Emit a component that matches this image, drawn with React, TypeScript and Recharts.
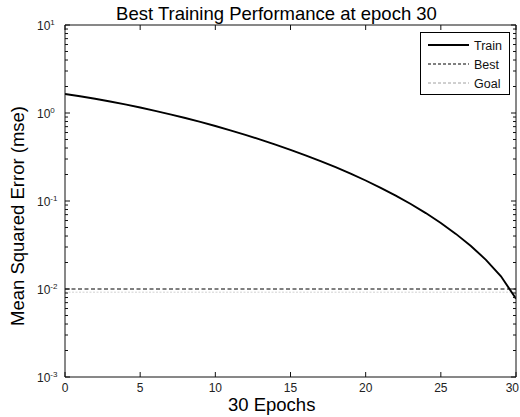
import React from 'react';
import { LineChart, Line, XAxis, YAxis, ReferenceLine, Legend } from 'recharts';

const epochs = [0, 1, 2, 3, 4, 5, 6, 7, 8, 9, 10, 11, 12, 13, 14, 15, 16, 17, 18, 19, 20, 21, 22, 23, 24, 25, 26, 27, 28, 29, 30];
const trainMse = [1.644, 1.548, 1.45, 1.351, 1.252, 1.155, 1.059, 0.9665, 0.877, 0.792, 0.712, 0.636, 0.565, 0.499, 0.438, 0.382, 0.3306, 0.2841, 0.2422, 0.2046, 0.171, 0.1413, 0.1152, 0.0924, 0.0729, 0.0562, 0.0423, 0.0308, 0.02147, 0.01394, 0.00774];
const bestLevel = 0.01;
const goalLevel = 0.0092;
const xTicks = [0, 5, 10, 15, 20, 25, 30];
const yDecades = [0.001, 0.01, 0.1, 1, 10];
const legendNames = ['Train', 'Best', 'Goal'];
const titleText = 'Best Training Performance at epoch 30';
const xLabelText = '30 Epochs';
const yLabelText = 'Mean Squared Error (mse)';

const FONT = '"Liberation Sans", Arial, sans-serif';
const TM = 6;
const CHART_W = 520;

const data = epochs.map((e, i) => ({ epoch: e, train: trainMse[i] }));

const yTicks: number[] = [];
yDecades.forEach((d, i) => {
  if (i < yDecades.length - 1) {
    for (let k = 1; k <= 9; k++) yTicks.push(parseFloat((d * k).toPrecision(6)));
  } else {
    yTicks.push(d);
  }
});

const isMajor = (v: number) => {
  const l = Math.log10(v);
  return Math.abs(l - Math.round(l)) < 1e-6;
};

const LeftYTick = (props: any) => {
  const { x, y, payload } = props;
  const v = payload.value;
  const ax = x + TM;
  const major = isMajor(v);
  const exp = Math.round(Math.log10(v));
  return (
    <g>
      <line x1={ax} x2={ax + (major ? 5 : 3)} y1={y} y2={y} stroke="#111" strokeWidth={1} />
      {major && (
        <text x={ax - 28} y={y + 4.5} fontSize={12} fontFamily={FONT} fill="#222">
          10
          <tspan dy={-5} fontSize={8}>{exp}</tspan>
        </text>
      )}
    </g>
  );
};

const RightYTick = (props: any) => {
  const { x, y, payload } = props;
  const ax = x - TM;
  const major = isMajor(payload.value);
  return <line x1={ax} x2={ax - (major ? 5 : 3)} y1={y} y2={y} stroke="#111" strokeWidth={1} />;
};

const BottomXTick = (props: any) => {
  const { x, y, payload } = props;
  const ay = y - TM;
  const label = String(payload.value);
  const halfW = label.length * 3.4;
  const overflow = x + halfW > CHART_W - 1;
  return (
    <g>
      <line x1={x} x2={x} y1={ay} y2={ay - 5} stroke="#111" strokeWidth={1} />
      <text
        x={overflow ? CHART_W - 1 : x}
        y={ay + 15}
        textAnchor={overflow ? 'end' : 'middle'}
        fontSize={12}
        fontFamily={FONT}
        fill="#222"
      >
        {label}
      </text>
    </g>
  );
};

const TopXTick = (props: any) => {
  const { x, y } = props;
  const ay = y + TM;
  return <line x1={x} x2={x} y1={ay} y2={ay + 5} stroke="#111" strokeWidth={1} />;
};

const legendStyles = [
  { stroke: '#000', width: 2, dash: undefined as string | undefined },
  { stroke: '#000', width: 1, dash: '3 2' },
  { stroke: '#a0a0a0', width: 1, dash: '3 2' },
];

const LegendBox = () => (
  <svg width={90} height={63} style={{ display: 'block' }}>
    <rect x={0.5} y={0.5} width={89} height={62} fill="#fff" stroke="#000" strokeWidth={1} />
    {legendNames.map((name, i) => {
      const s = legendStyles[i];
      const yy = 13 + i * 19;
      return (
        <g key={name}>
          <line x1={8} x2={49} y1={yy} y2={yy} stroke={s.stroke} strokeWidth={s.width} strokeDasharray={s.dash} />
          <text x={54} y={yy + 4.5} fontSize={12.5} fontFamily={FONT} fill="#111">
            {name}
          </text>
        </g>
      );
    })}
  </svg>
);

export default function App() {
  return (
    <div style={{ position: 'absolute', left: 0, top: 0, width: 520, height: 417, overflow: 'hidden', background: '#fff' }}>
      <LineChart width={CHART_W} height={417} data={data} margin={{ top: 0, right: 0, bottom: 0, left: 0 }}>
        <XAxis
          xAxisId="b"
          dataKey="epoch"
          type="number"
          domain={[0, 30]}
          ticks={xTicks}
          interval={0}
          orientation="bottom"
          height={40}
          tickSize={0}
          tickMargin={TM}
          tickLine={false}
          axisLine={{ stroke: '#111', strokeWidth: 1 }}
          tick={<BottomXTick />}
          allowDataOverflow
        />
        <XAxis
          xAxisId="t"
          dataKey="epoch"
          type="number"
          domain={[0, 30]}
          ticks={xTicks}
          interval={0}
          orientation="top"
          height={25}
          tickSize={0}
          tickMargin={TM}
          tickLine={false}
          axisLine={{ stroke: '#111', strokeWidth: 1 }}
          tick={<TopXTick />}
          allowDataOverflow
        />
        <YAxis
          yAxisId="l"
          type="number"
          scale="log"
          domain={[0.001, 10]}
          ticks={yTicks}
          interval={0}
          orientation="left"
          width={65}
          tickSize={0}
          tickMargin={TM}
          tickLine={false}
          axisLine={{ stroke: '#111', strokeWidth: 1 }}
          tick={<LeftYTick />}
          allowDataOverflow
        />
        <YAxis
          yAxisId="r"
          type="number"
          scale="log"
          domain={[0.001, 10]}
          ticks={yTicks}
          interval={0}
          orientation="right"
          width={4}
          tickSize={0}
          tickMargin={TM}
          tickLine={false}
          axisLine={{ stroke: '#111', strokeWidth: 1 }}
          tick={<RightYTick />}
          allowDataOverflow
        />
        <ReferenceLine xAxisId="b" yAxisId="l" y={goalLevel} stroke="#d2d2d2" strokeWidth={1} strokeDasharray="2 1.5" />
        <ReferenceLine xAxisId="b" yAxisId="l" y={bestLevel} stroke="#000" strokeWidth={1} strokeDasharray="4 2.5" />
        <Line
          xAxisId="b"
          yAxisId="l"
          type="linear"
          dataKey="train"
          stroke="#000"
          strokeWidth={1.9}
          dot={false}
          isAnimationActive={false}
        />
        <Legend
          layout="horizontal"
          align="center"
          verticalAlign="middle"
          content={() => <LegendBox />}
          wrapperStyle={{ left: 420, top: 32, width: 90, height: 63 }}
        />
      </LineChart>
      <svg width={520} height={417} style={{ position: 'absolute', left: 0, top: 0, pointerEvents: 'none' }}>
        <text x={276.5} y={20} textAnchor="middle" fontSize={18.5} fontFamily={FONT} fill="#000">
          {titleText}
        </text>
        <text x={271.7} y={411} textAnchor="middle" fontSize={18.5} fontFamily={FONT} fill="#000">
          {xLabelText}
        </text>
        <text transform="translate(24,216) rotate(-90)" x={0} y={0} textAnchor="middle" fontSize={18.5} fontFamily={FONT} fill="#000">
          {yLabelText}
        </text>
      </svg>
    </div>
  );
}
